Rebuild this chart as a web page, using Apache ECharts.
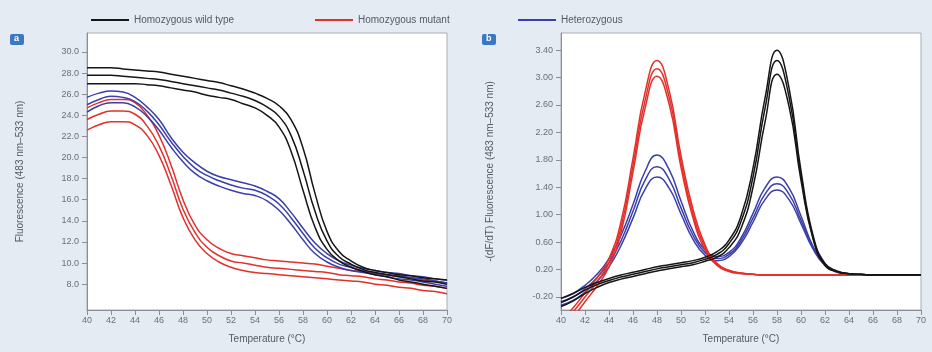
<!DOCTYPE html>
<html>
<head>
<meta charset="utf-8">
<script src="https://cdn.jsdelivr.net/npm/echarts@6/dist/echarts.min.js"></script>
<style>
  html, body { margin: 0; padding: 0; background: #e5ebf3; }
  #chart { width: 932px; height: 352px; }
</style>
</head>
<body>
<div id="chart"></div>
<script>
// temperatures (°C)
var temps = [40,41,42,43,44,45,46,47,48,49,50,51,52,53,54,55,56,57,58,59,60,61,62,63,64,65,66,67,68,69,70]

// panel a: raw fluorescence, three replicate lines per genotype
var wildRawHi  = [28.5,28.5,28.5,28.4,28.3,28.2,28.1,27.9,27.7,27.5,27.3,27.1,26.8,26.5,26.1,25.6,24.9,23.6,20.9,16.6,13.0,11.1,10.2,9.6,9.3,9.1,8.9,8.8,8.6,8.5,8.4]
var wildRawMid = [27.8,27.8,27.8,27.7,27.6,27.5,27.4,27.2,27.0,26.8,26.6,26.4,26.1,25.8,25.4,24.8,23.9,22.1,18.8,14.9,12.1,10.6,9.9,9.4,9.1,8.9,8.7,8.5,8.3,8.2,8.0]
var wildRawLo  = [27.0,27.0,27.0,27.0,27.0,26.9,26.8,26.6,26.4,26.2,25.9,25.7,25.5,25.1,24.7,24.0,22.9,20.6,16.9,13.4,11.3,10.2,9.6,9.2,8.9,8.7,8.4,8.2,8.0,7.8,7.6]

var mutRawHi  = [24.7,25.2,25.5,25.5,25.2,24.0,22.1,19.3,16.0,13.6,12.2,11.4,10.9,10.7,10.5,10.3,10.2,10.1,10.0,9.9,9.7,9.5,9.3,9.2,9.0,8.9,8.7,8.6,8.4,8.3,8.1]
var mutRawMid = [23.6,24.1,24.4,24.4,24.1,23.0,21.1,18.3,15.1,12.9,11.5,10.7,10.2,10.0,9.8,9.6,9.5,9.4,9.3,9.2,9.1,8.9,8.8,8.7,8.5,8.4,8.2,8.1,7.9,7.8,7.6]
var mutRawLo  = [22.6,23.1,23.4,23.4,23.1,22.1,20.2,17.4,14.3,12.2,10.9,10.1,9.6,9.3,9.1,9.0,8.9,8.8,8.7,8.6,8.5,8.4,8.3,8.2,8.0,7.9,7.7,7.6,7.4,7.3,7.1]

var hetRawHi  = [25.7,26.1,26.3,26.2,25.7,24.8,23.6,21.9,20.5,19.5,18.7,18.2,17.9,17.6,17.3,16.8,16.1,14.8,13.3,11.9,10.9,10.2,9.8,9.5,9.3,9.1,9.0,8.8,8.7,8.5,8.4]
var hetRawMid = [25.0,25.5,25.8,25.7,25.3,24.4,23.1,21.5,20.1,19.0,18.3,17.8,17.4,17.1,16.9,16.4,15.6,14.3,12.8,11.4,10.5,9.9,9.6,9.3,9.1,8.9,8.8,8.6,8.5,8.3,8.1]
var hetRawLo  = [24.3,24.9,25.2,25.2,24.8,23.9,22.6,21.0,19.6,18.5,17.8,17.3,16.9,16.6,16.4,15.9,15.0,13.7,12.2,10.9,10.1,9.6,9.3,9.1,8.9,8.7,8.5,8.4,8.2,8.0,7.8]

// panel b: -(dF/dT)
var wildDerHi  = [-0.22,-0.15,-0.06,0.01,0.07,0.12,0.16,0.20,0.24,0.27,0.30,0.33,0.38,0.46,0.63,0.98,1.68,2.70,3.40,2.85,1.64,0.70,0.29,0.18,0.14,0.13,0.12,0.12,0.12,0.12,0.12]
var wildDerMid = [-0.28,-0.20,-0.10,-0.02,0.04,0.09,0.13,0.17,0.21,0.24,0.27,0.30,0.35,0.42,0.58,0.90,1.55,2.55,3.25,2.72,1.57,0.67,0.27,0.17,0.14,0.13,0.12,0.12,0.12,0.12,0.12]
var wildDerLo  = [-0.34,-0.26,-0.15,-0.06,0.01,0.06,0.10,0.14,0.18,0.21,0.24,0.27,0.32,0.38,0.52,0.80,1.40,2.35,3.05,2.58,1.50,0.65,0.26,0.17,0.14,0.13,0.12,0.12,0.12,0.12,0.12]

var mutDerHi  = [-0.55,-0.36,-0.14,0.08,0.36,0.90,1.82,2.78,3.25,2.82,1.86,1.08,0.56,0.29,0.19,0.15,0.13,0.12,0.12,0.12,0.12,0.12,0.12,0.12,0.12,0.12,0.12,0.12,0.12,0.12,0.12]
var mutDerMid = [-0.62,-0.42,-0.20,0.02,0.30,0.82,1.72,2.66,3.13,2.72,1.77,1.01,0.53,0.27,0.18,0.15,0.13,0.12,0.12,0.12,0.12,0.12,0.12,0.12,0.12,0.12,0.12,0.12,0.12,0.12,0.12]
var mutDerLo  = [-0.70,-0.50,-0.27,-0.04,0.24,0.74,1.62,2.55,3.02,2.62,1.69,0.95,0.49,0.26,0.17,0.14,0.13,0.12,0.12,0.12,0.12,0.12,0.12,0.12,0.12,0.12,0.12,0.12,0.12,0.12,0.12]

var hetDerHi  = [-0.22,-0.15,-0.03,0.13,0.36,0.70,1.15,1.63,1.87,1.66,1.20,0.76,0.49,0.39,0.45,0.66,1.02,1.39,1.55,1.39,0.98,0.54,0.28,0.17,0.13,0.12,0.12,0.12,0.12,0.12,0.12]
var hetDerMid = [-0.27,-0.20,-0.08,0.08,0.30,0.62,1.05,1.50,1.70,1.52,1.10,0.70,0.45,0.36,0.42,0.62,0.95,1.30,1.45,1.30,0.92,0.52,0.27,0.17,0.13,0.12,0.12,0.12,0.12,0.12,0.12]
var hetDerLo  = [-0.32,-0.25,-0.13,0.03,0.24,0.55,0.95,1.37,1.55,1.39,1.01,0.64,0.41,0.33,0.39,0.58,0.89,1.22,1.36,1.22,0.87,0.50,0.26,0.16,0.13,0.12,0.12,0.12,0.12,0.12,0.12]

// tick labels
var xTicks = [40,42,44,46,48,50,52,54,56,58,60,62,64,66,68,70]
var rawTicks = [8,10,12,14,16,18,20,22,24,26,28,30]
var derTicks = [-0.2,0.2,0.6,1.0,1.4,1.8,2.2,2.6,3.0,3.4]

var WILD = 'Homozygous wild type'
var MUT = 'Homozygous mutant'
var HET = 'Heterozygous'
var colors = {}
colors[WILD] = '#161616'
colors[MUT] = '#e2302a'
colors[HET] = '#3a3fab'

function pairs(vals) {
  return temps.map(function (t, i) { return [t, vals[i]] })
}

var series = []
function addGroup(name, list, idx) {
  list.forEach(function (vals) {
    series.push({
      name: name,
      type: 'line',
      xAxisIndex: idx,
      yAxisIndex: idx,
      data: pairs(vals),
      smooth: 0.5,
      showSymbol: false,
      lineStyle: { color: colors[name], width: 1.5 },
      itemStyle: { color: colors[name] }
    })
  })
}
addGroup(MUT, [mutRawHi, mutRawMid, mutRawLo], 0)
addGroup(HET, [hetRawHi, hetRawMid, hetRawLo], 0)
addGroup(WILD, [wildRawHi, wildRawMid, wildRawLo], 0)
addGroup(HET, [hetDerHi, hetDerMid, hetDerLo], 1)
addGroup(MUT, [mutDerHi, mutDerMid, mutDerLo], 1)
addGroup(WILD, [wildDerHi, wildDerMid, wildDerLo], 1)

var labelStyle = { color: '#6a6e78', fontSize: 9, fontFamily: 'Liberation Sans' }
var axisLine = { onZero: false, lineStyle: { color: '#8a8e96' } }

function xAxis(idx) {
  return {
    type: 'value', gridIndex: idx, min: 40, max: 70,
    name: 'Temperature (°C)', nameLocation: 'middle', nameGap: 24,
    nameTextStyle: { color: '#555a66', fontSize: 10, fontFamily: 'Liberation Sans' },
    axisLine: axisLine,
    axisTick: { show: true, length: 5, lineStyle: { color: '#8a8e96' }, customValues: xTicks },
    axisLabel: Object.assign({ margin: 6, customValues: xTicks }, labelStyle),
    splitLine: { show: false }
  }
}

var option = {
  backgroundColor: '#e5ebf3',
  animation: false,
  legend: [
    { left: 86, top: 10, data: [WILD] },
    { left: 310, top: 10, data: [MUT] },
    { left: 513, top: 10, data: [HET] }
  ].map(function (l) {
    return Object.assign({
      icon: 'rect', itemWidth: 38, itemHeight: 2, itemGap: 8,
      textStyle: { color: '#555a66', fontSize: 10, fontFamily: 'Liberation Sans' }
    }, l)
  }),
  grid: [
    { left: 87, right: 485, top: 33, bottom: 42, show: true, backgroundColor: '#ffffff', borderColor: '#a8acb4', borderWidth: 1 },
    { left: 561, right: 11, top: 33, bottom: 42, show: true, backgroundColor: '#ffffff', borderColor: '#a8acb4', borderWidth: 1 }
  ],
  xAxis: [xAxis(0), xAxis(1)],
  yAxis: [
    {
      type: 'value', gridIndex: 0, min: 5.55, max: 31.8,
      name: 'Fluorescence (483 nm–533 nm)', nameLocation: 'middle', nameGap: 62,
      nameTextStyle: { color: '#555a66', fontSize: 10, fontFamily: 'Liberation Sans' },
      axisLine: axisLine,
      axisTick: { show: true, length: 5, lineStyle: { color: '#8a8e96' }, customValues: rawTicks },
      axisLabel: Object.assign({ margin: 8, customValues: rawTicks, formatter: function (v) { return v.toFixed(1) } }, labelStyle),
      splitLine: { show: false }
    },
    {
      type: 'value', gridIndex: 1, min: -0.39, max: 3.65,
      name: '-(dF/dT) Fluorescence (483 nm–533 nm)', nameLocation: 'middle', nameGap: 66,
      nameTextStyle: { color: '#555a66', fontSize: 10, fontFamily: 'Liberation Sans' },
      axisLine: axisLine,
      axisTick: { show: true, length: 5, lineStyle: { color: '#8a8e96' }, customValues: derTicks },
      axisLabel: Object.assign({ margin: 8, customValues: derTicks, formatter: function (v) { return v.toFixed(2) } }, labelStyle),
      splitLine: { show: false }
    }
  ],
  graphic: [
    { type: 'rect', left: 10, top: 34, shape: { width: 14, height: 11, r: 2 }, style: { fill: '#3a78c2' } },
    { type: 'text', left: 14, top: 34, style: { text: 'a', fill: '#ffffff', font: 'bold 9px Liberation Sans' } },
    { type: 'rect', left: 482, top: 34, shape: { width: 14, height: 11, r: 2 }, style: { fill: '#3a78c2' } },
    { type: 'text', left: 486, top: 34, style: { text: 'b', fill: '#ffffff', font: 'bold 9px Liberation Sans' } }
  ],
  series: series
}

var chart = echarts.init(document.getElementById('chart'))
chart.setOption(option)
</script>
</body>
</html>
